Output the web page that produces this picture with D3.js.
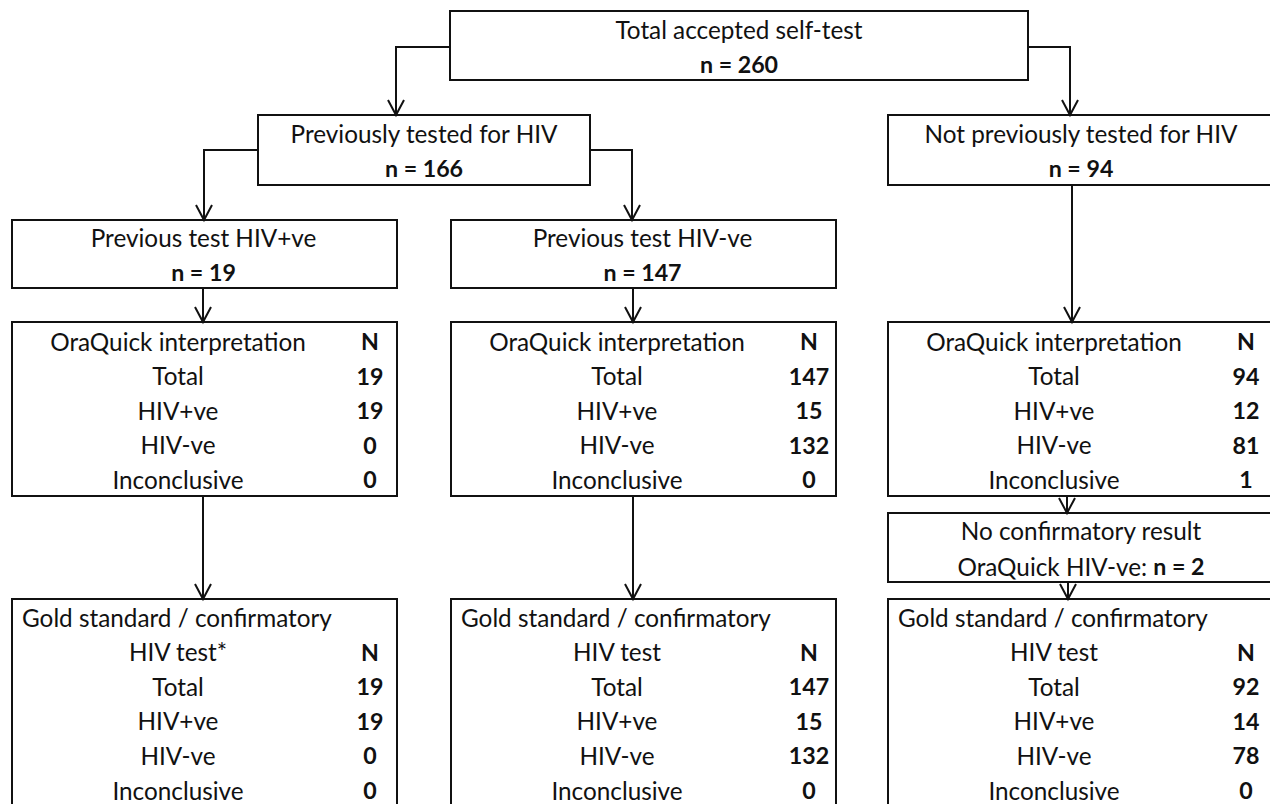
<!DOCTYPE html>
<html>
<head>
<meta charset="utf-8">
<script src="https://cdn.jsdelivr.net/npm/d3@7"></script>
<style>
  html, body { margin: 0; padding: 0; background: #fff; overflow: hidden; }
  svg { display: block; }
  text { font-family: Lato, "Open Sans", sans-serif; fill: #111; }
</style>
</head>
<body>
<svg id="chart" width="1270" height="804"></svg>
<script>
// ---------------- data ----------------
const topTitle = "Total accepted self-test";
const topCount = 260;
const branchTitles = ["Previously tested for HIV", "Not previously tested for HIV"];
const branchCounts = [166, 94];
const prevTitles = ["Previous test HIV+ve", "Previous test HIV-ve"];
const prevCounts = [19, 147];
const rowLabels = ["Total", "HIV+ve", "HIV-ve", "Inconclusive"];
const oraHeader = "OraQuick interpretation";
const oraPrevPos = [19, 19, 0, 0];
const oraPrevNeg = [147, 15, 132, 0];
const oraNotPrev = [94, 12, 81, 1];
const noConfirmTitle = "No confirmatory result";
const noConfirmLabel = "OraQuick HIV-ve: ";
const noConfirmCount = 2;
const goldTitle = "Gold standard / confirmatory";
const goldHeaders = ["HIV test*", "HIV test", "HIV test"];
const goldPrevPos = [19, 19, 0, 0];
const goldPrevNeg = [147, 15, 132, 0];
const goldNotPrev = [92, 14, 78, 0];

// ---------------- drawing ----------------
const svg = d3.select("#chart");
const FS = 24.3;
const FSB = 23.2;
const SW = 2;
const ink = "#111";

// column scale: three columns of equal-width boxes
const colX = d3.scaleOrdinal().domain([0, 1, 2]).range([12, 451, 888]);
const boxW = 385;
// table row scale inside the result boxes
const oraRowY = d3.scaleLinear().domain([0, 4]).range([341, 479]);
const goldRowY = d3.scaleLinear().domain([0, 5]).range([617, 790]);

function box(x, y, w, h) {
  svg.append("rect").attr("x", x).attr("y", y).attr("width", w).attr("height", h)
    .attr("fill", "none").attr("stroke", ink).attr("stroke-width", SW);
}
function txt(x, y, s, opts = {}) {
  const t = svg.append("text").attr("x", x).attr("y", y)
    .attr("dominant-baseline", "central")
    .attr("text-anchor", opts.anchor || "middle")
    .style("font-size", (opts.bold ? FSB : FS) + "px")
    .style("font-weight", opts.bold ? "700" : "400")
    .text(s);
  return t;
}
function arrowPath(points) {
  svg.append("path").attr("d", d3.line()(points))
    .attr("fill", "none").attr("stroke", ink).attr("stroke-width", SW);
  const [tx, ty] = points[points.length - 1];
  svg.append("path").attr("d", d3.line()([[tx - 8, ty - 15], [tx, ty], [tx + 8, ty - 15]]))
    .attr("fill", "none").attr("stroke", ink).attr("stroke-width", SW);
}

// Top box
box(450, 11, 578, 69);
txt(739, 29, topTitle);
txt(739, 64, "n = " + topCount, { bold: true });

// Branch boxes
box(258, 115, 332, 70);
txt(424, 133, branchTitles[0]);
txt(424, 168, "n = " + branchCounts[0], { bold: true });

box(888, 115, boxW, 70);
txt(1081, 133, branchTitles[1]);
txt(1081, 168, "n = " + branchCounts[1], { bold: true });

// Previous test boxes
[0, 1].forEach(i => {
  const x = colX(i);
  box(x, 220, boxW, 68);
  txt(x + boxW / 2 - 1, 237, prevTitles[i]);
  txt(x + boxW / 2 - 1, 272, "n = " + prevCounts[i], { bold: true });
});

// OraQuick boxes
const oraData = [oraPrevPos, oraPrevNeg, oraNotPrev];
oraData.forEach((vals, i) => {
  const x = colX(i);
  box(x, 322, boxW, 174);
  txt(x + 166, oraRowY(0), oraHeader);
  txt(x + 358, oraRowY(0), "N", { bold: true });
  vals.forEach((v, j) => {
    txt(x + 166, oraRowY(j + 1), rowLabels[j]);
    txt(x + 358, oraRowY(j + 1), v, { bold: true });
  });
});

// No confirmatory box
box(888, 513, boxW, 69);
txt(1081, 530, noConfirmTitle);
const nc = txt(1081, 566, "");
nc.append("tspan").text(noConfirmLabel);
nc.append("tspan").style("font-weight", "700").style("font-size", FSB + "px").text("n = " + noConfirmCount);

// Gold standard boxes
const goldData = [goldPrevPos, goldPrevNeg, goldNotPrev];
goldData.forEach((vals, i) => {
  const x = colX(i);
  box(x, 599, boxW, 230);
  txt(x + 10, goldRowY(0), goldTitle, { anchor: "start" });
  txt(x + 166, goldRowY(1), goldHeaders[i]);
  txt(x + 358, goldRowY(1), "N", { bold: true });
  vals.forEach((v, j) => {
    txt(x + 166, goldRowY(j + 2), rowLabels[j]);
    txt(x + 358, goldRowY(j + 2), v, { bold: true });
  });
});

// Connectors
arrowPath([[450, 47], [396, 47], [396, 115]]);
arrowPath([[1028, 47], [1070, 47], [1070, 115]]);
arrowPath([[258, 150], [204, 150], [204, 220]]);
arrowPath([[590, 150], [632, 150], [632, 220]]);
arrowPath([[203, 288], [203, 322]]);
arrowPath([[633, 288], [633, 322]]);
arrowPath([[1072, 185], [1072, 322]]);
arrowPath([[203, 496], [203, 599]]);
arrowPath([[633, 496], [633, 599]]);
arrowPath([[1067, 496], [1067, 513]]);
arrowPath([[1068, 582], [1068, 599]]);
</script>
</body>
</html>
